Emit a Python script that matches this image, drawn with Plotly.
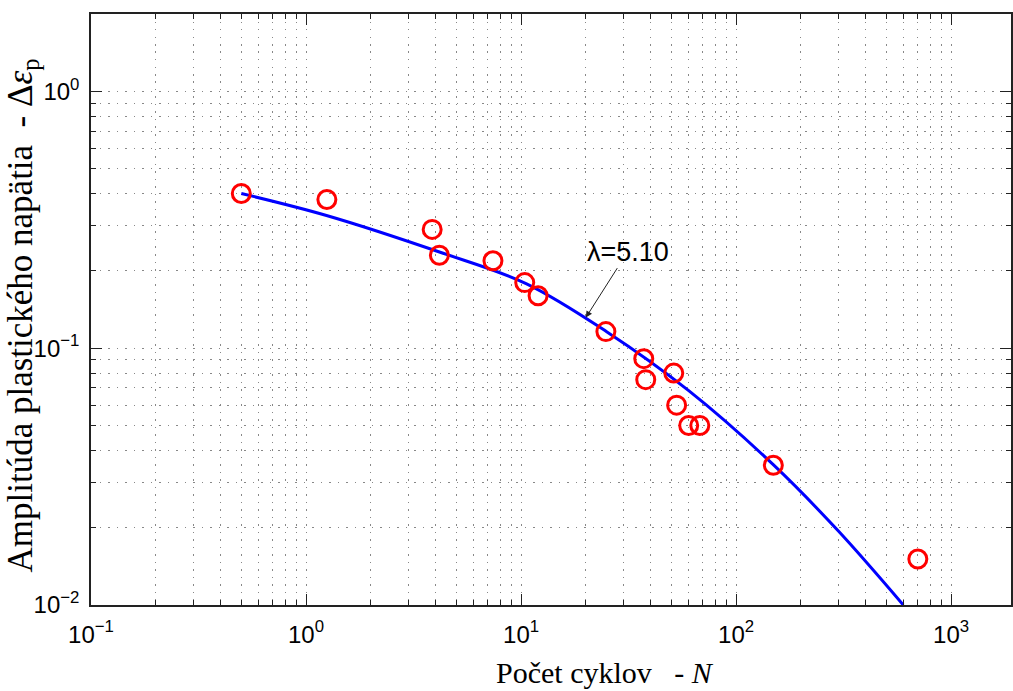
import numpy as np
import plotly.graph_objects as go

# Measured cycles to failure and plastic strain amplitude
cycles = [0.5, 1.25, 3.86, 4.17, 7.4, 10.4, 12.0, 24.8, 37.2, 38.0, 51.3, 52.9, 60.2, 67.8, 149.0, 700.0]
strain = [0.40, 0.379, 0.29, 0.23, 0.219, 0.18, 0.16, 0.116, 0.091, 0.0754, 0.080, 0.060, 0.050, 0.050, 0.035, 0.0151]

# Fitted curve (lambda = 5.10)
fit_cycles = [0.5, 1.245, 4.24, 10.55, 25.0, 60.2, 149.3, 299.0, 599.0]
fit_strain = [0.400, 0.3286, 0.2357, 0.1784, 0.1159, 0.0683, 0.0351, 0.0194, 0.0100]

lambda_label = "λ=5.10"
arrow_cycles = 20.0
arrow_strain = 0.1315

x_tickvals = [0.1, 1, 10, 100, 1000]
x_ticktext = ["10<sup>−1</sup>", "10<sup>0</sup>", "10<sup>1</sup>", "10<sup>2</sup>", "10<sup>3</sup>"]
y_tickvals = [0.01, 0.1, 1]
y_ticktext = ["10<sup>−2</sup>", "10<sup>−1</sup>", "10<sup>0</sup>"]

x_minor = [m * 10.0 ** k for k in range(-1, 4) for m in range(2, 10)]
y_minor = [m * 10.0 ** k for k in range(-2, 1) for m in range(2, 10)]

x_label = "Počet cyklov\u00a0\u00a0 - <i>N</i>"
y_label = "Amplitúda plastického napätia\u00a0 - Δ<i>ε</i><sub>p</sub>"

fig = go.Figure()
fig.add_trace(go.Scatter(
    x=fit_cycles, y=fit_strain, mode="lines",
    line=dict(color="#0000ff", width=3, shape="spline", smoothing=1.0),
    showlegend=False, hoverinfo="skip",
))
fig.add_trace(go.Scatter(
    x=cycles, y=strain, mode="markers",
    marker=dict(symbol="circle-open", size=18, color="#ff0000", line=dict(color="#ff0000", width=3)),
    showlegend=False,
))

grid_color = "#888888"
tick_font = dict(family="Liberation Sans, Arial, sans-serif", size=24, color="black")

fig.update_xaxes(
    type="log", range=[-1, 3.2784],
    showline=True, linecolor="#222222", linewidth=1.5, mirror="allticks",
    ticks="inside", ticklen=11, tickwidth=1, tickcolor="#222222",
    tickmode="array", tickvals=x_tickvals, ticktext=x_ticktext,
    tickfont=tick_font, ticklabelstandoff=7,
    showgrid=True, gridcolor=grid_color, gridwidth=1, griddash="1.5px,6px",
    minor=dict(tickmode="array", tickvals=x_minor, ticks="inside", ticklen=5,
               tickcolor="#222222", showgrid=True, gridcolor=grid_color,
               gridwidth=1, griddash="1.5px,6px"),
    zeroline=False,
)
fig.update_yaxes(
    type="log", range=[-2, np.log10(2)],
    showline=True, linecolor="#222222", linewidth=1.5, mirror="allticks",
    ticks="inside", ticklen=11, tickwidth=1, tickcolor="#222222",
    tickmode="array", tickvals=y_tickvals, ticktext=y_ticktext,
    tickfont=tick_font, ticklabelstandoff=5,
    showgrid=True, gridcolor=grid_color, gridwidth=1, griddash="1.5px,7px",
    minor=dict(tickmode="array", tickvals=y_minor, ticks="inside", ticklen=5,
               tickcolor="#222222", showgrid=True, gridcolor=grid_color,
               gridwidth=1, griddash="1.5px,7px"),
    zeroline=False,
)

fig.add_annotation(
    x=np.log10(arrow_cycles), y=np.log10(arrow_strain), xref="x", yref="y",
    text=lambda_label, showarrow=True, arrowhead=2, arrowsize=1.3, arrowwidth=1,
    arrowcolor="#222222", ax=42, ay=-66,
    font=dict(family="Liberation Sans, Arial, sans-serif", size=27, color="black"),
)
fig.add_annotation(
    x=0.5586, y=-0.1134, xref="paper", yref="paper", showarrow=False,
    text=x_label, xanchor="center", yanchor="middle",
    font=dict(family="Liberation Serif, Times New Roman, serif", size=30, color="black"),
)
fig.add_annotation(
    x=-0.0755, y=0.489, xref="paper", yref="paper", showarrow=False,
    text=y_label, textangle=-90, xanchor="center", yanchor="middle",
    font=dict(family="Liberation Serif, Times New Roman, serif", size=35, color="black"),
)

fig.update_layout(
    width=1013, height=691,
    margin=dict(l=91, r=0, t=14, b=86),
    paper_bgcolor="white", plot_bgcolor="white",
)

fig.write_html("out.html")
